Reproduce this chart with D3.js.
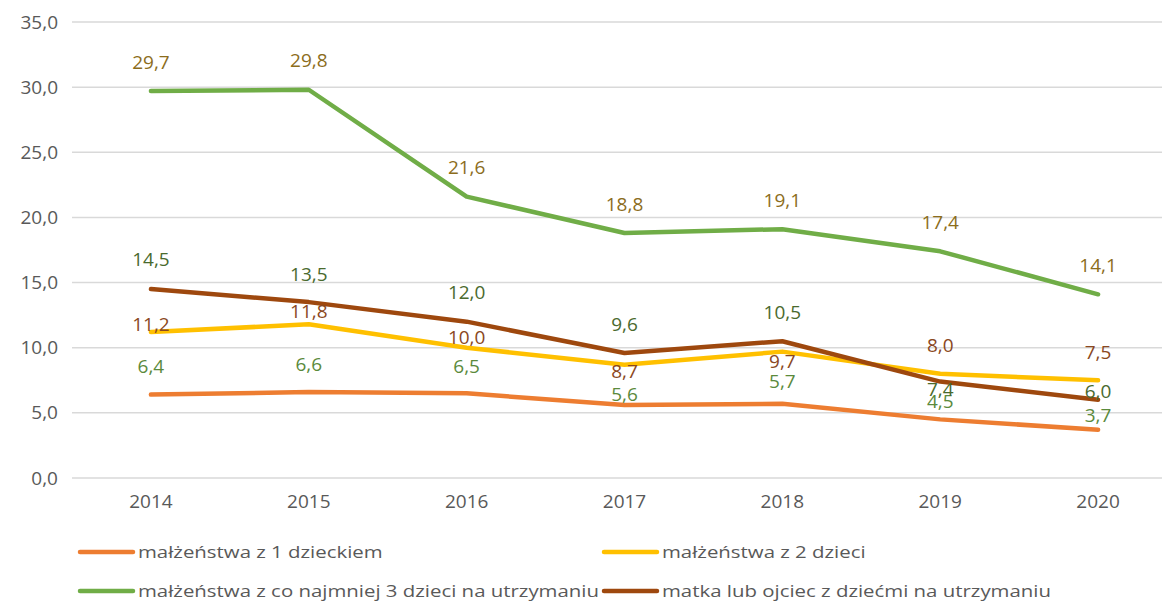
<!DOCTYPE html>
<html>
<head>
<meta charset="utf-8">
<script src="https://cdn.jsdelivr.net/npm/d3@7"></script>
<style>
    body { margin: 0; background: #fff; }
    svg { display: block; font-family: "Open Sans", sans-serif; }
</style>
</head>
<body>
<svg id="chart" width="1162" height="603"></svg>
<script>
const years = ["2014", "2015", "2016", "2017", "2018", "2019", "2020"];
const yTicks = [0, 5, 10, 15, 20, 25, 30, 35];

const oneChild = [6.4, 6.6, 6.5, 5.6, 5.7, 4.5, 3.7];
const twoChildren = [11.2, 11.8, 10.0, 8.7, 9.7, 8.0, 7.5];
const threePlus = [29.7, 29.8, 21.6, 18.8, 19.1, 17.4, 14.1];
const singleParent = [14.5, 13.5, 12.0, 9.6, 10.5, 7.4, 6.0];

const seriesNames = [
    "małżeństwa z 1 dzieckiem",
    "małżeństwa z 2 dzieci",
    "małżeństwa z co najmniej 3 dzieci na utrzymaniu",
    "matka lub ojciec z dziećmi na utrzymaniu"
];

// label nudges (px from the point), the picture has a few moved by hand
const labelOffsets = [
    [-28, -28, -27, -11, -22, -18, -14],
    [-8, -13, -10, 7, 10, -28, -28],
    [-29, -29, -29, -29, -29, -29, -29],
    [-30, -28, -29, -29, -29, 8, -8]
];

const series = [
    { name: seriesNames[0], values: oneChild, colour: "#ED7D31", labelColour: "#5b8a3c" },
    { name: seriesNames[1], values: twoChildren, colour: "#FFC000", labelColour: "#8a4822" },
    { name: seriesNames[2], values: threePlus, colour: "#70AD47", labelColour: "#8c6d1c" },
    { name: seriesNames[3], values: singleParent, colour: "#9E480E", labelColour: "#4a6a2e" }
];

const svg = d3.select("#chart");
const fmt = v => d3.format(".1f")(v).replace(".", ",");

const x = d3.scaleBand().domain(years).range([72, 1177]);
const y = d3.scaleLinear().domain([0, 35]).range([478, 22]);

// gridlines
svg.append("g")
   .selectAll("line")
   .data(yTicks)
   .join("line")
   .attr("x1", 72)
   .attr("x2", 1177)
   .attr("y1", d => y(d))
   .attr("y2", d => y(d))
   .style("stroke", "#d9d9d9")
   .style("stroke-width", 1.5);

// y axis labels
const yAxis = svg.append("g")
                 .attr("transform", "translate(58,0)")
                 .call(d3.axisLeft(y).tickValues(yTicks).tickFormat(fmt).tickSize(0).tickPadding(0));
yAxis.select(".domain").remove();
yAxis.selectAll("text")
     .style("font-family", "Open Sans, sans-serif")
     .style("font-size", "19px")
     .style("fill", "#595959");

// x axis labels
const xAxis = svg.append("g")
                 .attr("transform", "translate(0,494)")
                 .call(d3.axisBottom(x).tickSize(0).tickPadding(0));
xAxis.select(".domain").remove();
xAxis.selectAll("text")
     .style("font-family", "Open Sans, sans-serif")
     .style("font-size", "19px")
     .style("fill", "#595959");

const cx = d => x(d) + x.bandwidth() / 2;
const line = d3.line()
               .x((d, i) => cx(years[i]))
               .y(d => y(d));

series.forEach(s => {
    svg.append("path")
       .datum(s.values)
       .attr("d", line)
       .style("fill", "none")
       .style("stroke", s.colour)
       .style("stroke-width", 4.5)
       .style("stroke-linecap", "round")
       .style("stroke-linejoin", "round");
});

series.forEach((s, si) => {
    svg.append("g")
       .selectAll("text")
       .data(s.values)
       .join("text")
       .attr("x", (d, i) => cx(years[i]))
       .attr("y", (d, i) => y(d) + labelOffsets[si][i])
       .attr("dy", "0.35em")
       .attr("text-anchor", "middle")
       .style("font-size", "19px")
       .style("fill", s.labelColour)
       .text(d => fmt(d));
});

// legend, two per row; text is a bit stretched like in the original
const legend = svg.append("g").attr("class", "legend");
series.forEach((s, i) => {
    const lx = i % 2 === 0 ? 80 : 604;
    const ly = i < 2 ? 552 : 591;
    const el = legend.append("g").attr("transform", "translate(" + lx + "," + ly + ")");
    el.append("line")
      .attr("x1", 0)
      .attr("x2", 53)
      .style("stroke", s.colour)
      .style("stroke-width", 4.5)
      .style("stroke-linecap", "round");
    el.append("text")
      .attr("transform", "translate(58,0) scale(1.2,1)")
      .attr("dy", "0.33em")
      .style("font-size", "17px")
      .style("fill", "#595959")
      .text(s.name);
});
</script>
</body>
</html>
